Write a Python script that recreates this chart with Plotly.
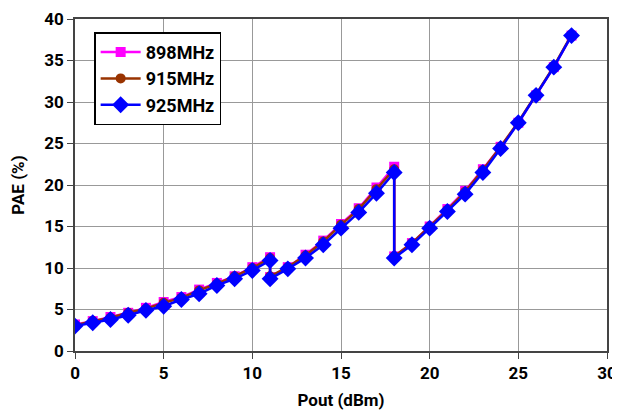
import plotly.graph_objects as go

pout = [0, 1, 2, 3, 4, 5, 6, 7, 8, 9, 10, 11, 11, 12, 13, 14, 15, 16, 17, 18, 18,
        19, 20, 21, 22, 23, 24, 25, 26, 27, 28]
pae_898 = [3.2, 3.6, 4.1, 4.6, 5.2, 5.9, 6.5, 7.4, 8.2, 9.0, 10.1, 11.3, 8.9, 10.1, 11.6,
           13.3, 15.3, 17.2, 19.7, 22.2, 11.4, 13.0, 15.0, 17.1, 19.3, 21.9, 24.6, 27.5,
           30.8, 34.2, 38.0]
pae_915 = [3.1, 3.6, 4.0, 4.6, 5.1, 5.8, 6.4, 7.3, 8.1, 9.0, 10.0, 11.2, 9.0, 10.1, 11.5,
           13.2, 15.2, 17.1, 19.5, 21.9, 11.4, 13.0, 15.0, 17.0, 19.2, 21.8, 24.6, 27.6,
           30.9, 34.3, 38.1]
pae_925 = [3.0, 3.4, 3.8, 4.3, 4.9, 5.4, 6.2, 6.9, 7.9, 8.7, 9.7, 10.9, 8.7, 9.9, 11.2,
           12.8, 14.8, 16.7, 19.0, 21.5, 11.2, 12.8, 14.8, 16.8, 18.9, 21.5, 24.4, 27.5,
           30.8, 34.2, 38.0]
x_ticks = [0, 5, 10, 15, 20, 25, 30]
y_ticks = [0, 5, 10, 15, 20, 25, 30, 35, 40]

FONT = "Roboto"

fig = go.Figure()
fig.add_trace(go.Scatter(x=pout, y=pae_898, name="<b>898MHz</b>", mode="lines+markers",
                         line=dict(color="#FF00FF", width=2.5),
                         marker=dict(symbol="square", size=10, color="#FF00FF")))
fig.add_trace(go.Scatter(x=pout, y=pae_915, name="<b>915MHz</b>", mode="lines+markers",
                         line=dict(color="#993300", width=2.5),
                         marker=dict(symbol="circle", size=10, color="#993300")))
fig.add_trace(go.Scatter(x=pout, y=pae_925, name="<b>925MHz</b>", mode="lines+markers",
                         line=dict(color="#0000FF", width=2.5),
                         marker=dict(symbol="diamond", size=13, color="#0000FF")))

fig.update_layout(
    width=620, height=416,
    margin=dict(l=67, r=21, t=11, b=73),
    paper_bgcolor="white", plot_bgcolor="white",
    font=dict(family=FONT, size=17, color="black"),
    showlegend=True,
    legend=dict(x=0.036, y=0.96, xanchor="left", yanchor="top",
                bgcolor="white", bordercolor="black", borderwidth=1.5,
                font=dict(family=FONT, size=18, color="black"),
                tracegroupgap=0, itemwidth=40),
    xaxis=dict(range=[0, 30], tickvals=x_ticks, ticktext=[f"<b>{v}</b>" for v in x_ticks],
               showgrid=True, gridcolor="#999999", gridwidth=1, automargin=False,
               ticklabeloverflow="allow",
               showline=True, linecolor="#444444", linewidth=1.5, mirror=True,
               ticks="outside", ticklen=6, tickcolor="#444444",
               title=dict(text="<b>Pout (dBm)</b>", font=dict(size=17), standoff=12),
               zeroline=False),
    yaxis=dict(range=[0, 40], tickvals=y_ticks, ticktext=[f"<b>{v}</b>" for v in y_ticks],
               showgrid=True, gridcolor="#999999", gridwidth=1, automargin=False,
               ticklabeloverflow="allow",
               showline=True, linecolor="#444444", linewidth=1.5, mirror=True,
               ticks="outside", ticklen=6, tickcolor="#444444",
               title=dict(text="<b>PAE (%)</b>", font=dict(size=17), standoff=18),
               zeroline=False),
)

fig.write_html("out.html")
